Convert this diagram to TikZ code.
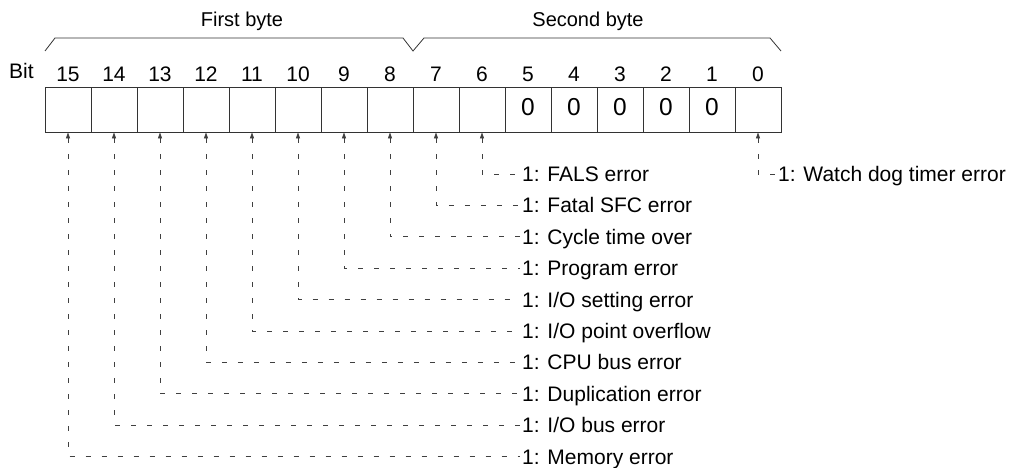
\documentclass[tikz,border=0pt]{standalone}
\usepackage{fontspec}
\setmainfont{Liberation Sans}
\usetikzlibrary{arrows.meta,positioning,calc}

\begin{document}
\begin{tikzpicture}[x=1pt,y=-1pt,>={Triangle[length=6pt,width=4pt]},
  cell/.style={draw=black!80,line width=0.8pt,minimum width=46pt,minimum height=45pt,inner sep=0pt},
  bitno/.style={anchor=base,inner sep=0pt,font=\fontsize{21}{24}\selectfont},
  zero/.style={anchor=base,inner sep=0pt,font=\fontsize{24.5}{28}\selectfont},
  errline/.style={dash pattern=on 5pt off 11pt,draw=black!75,line width=0.8pt},
  errtext/.style={anchor=west,inner sep=2pt,text height=15pt,text depth=0pt,font=\fontsize{21}{24}\selectfont}]
\useasboundingbox (0,0) rectangle (1011,468);
% byte brackets
\draw[line width=0.8pt,black!80] (45,51) -- (55,38) -- (403,38) -- (413,51) -- (424,38) -- (770,38) -- (781,51);
\node[bitno,font=\fontsize{20}{24}\selectfont] (first) at (242,27) {First byte};
\node[bitno,font=\fontsize{20}{24}\selectfont] (second) at (588,27) {Second byte};
\node[bitno,anchor=base west] (bit) at (9,79) {Bit};
% register cells and bit numbers
\foreach \b in {0,...,15} {
  \node[cell] (c\b) at ({68+46*(15-\b)},109.5) {};
  \node[bitno] (n\b) at ({68+46*(15-\b)},82) {\b};
}
\foreach \b in {1,...,5}
  \node[zero] (z\b) at ({68+46*(15-\b)},116) {0};
% error flags
\foreach \b/\txt in {6/FALS error,7/Fatal SFC error,8/Cycle time over,9/Program error,
    10/{I/O setting error},11/{I/O point overflow},12/CPU bus error,13/Duplication error,
    14/{I/O bus error},15/Memory error} {
  \node[errtext] (e\b) at (520,{174+31.4*(\b-6)}) {1: \txt};
  \draw[errline,<-] (c\b.south) |- (e\b.west);
}
\node[errtext] (e0) at (776,174) {1: Watch dog timer error};
\draw[errline,<-] (c0.south) |- (e0.west);
\end{tikzpicture}
\end{document}
